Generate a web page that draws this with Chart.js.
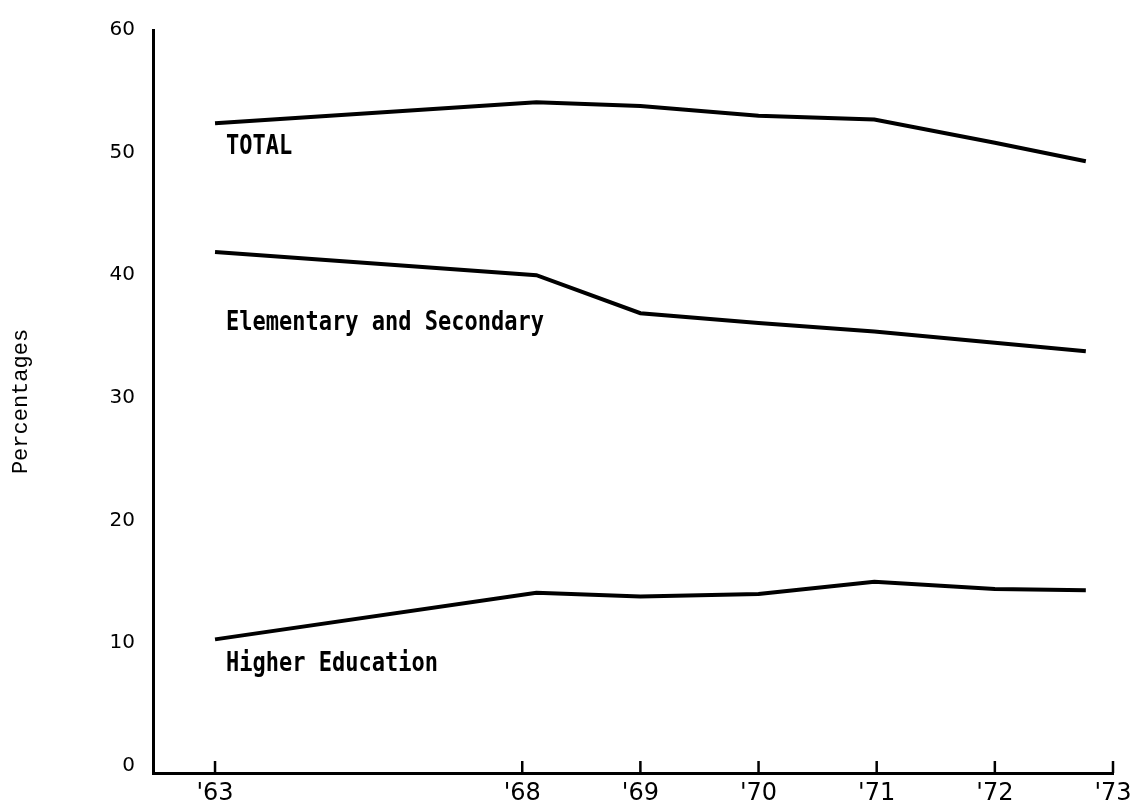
<!DOCTYPE html>
<html>
<head>
<meta charset="utf-8">
<script src="https://cdn.jsdelivr.net/npm/chart.js@4.4.0/dist/chart.umd.min.js"></script>
<style>
  html, body { margin: 0; padding: 0; background: #fff; }
  #wrap { width: 1141px; height: 805px; }
</style>
</head>
<body>
<div id="wrap"><canvas id="chart"></canvas></div>
<script>
// year labels and where they sit on the (broken) time axis
const xLabels = ["'63", "'68", "'69", "'70", "'71", "'72", "'73"];
const tickPos = [0, 2.6, 3.6, 4.6, 5.6, 6.6, 7.6];
// where each year's point was actually plotted
const pointPos = [0, 2.72, 3.6, 4.6, 5.58, 6.6, 7.37];

const total = [52.4, 54.1, 53.8, 53.0, 52.7, 50.8, 49.3];
const elemSec = [41.9, 40.0, 36.9, 36.1, 35.4, 34.5, 33.8];
const higherEd = [10.3, 14.1, 13.8, 14.0, 15.0, 14.4, 14.3];

const yTicks = [0, 10, 20, 30, 40, 50, 60];

const seriesNames = ['TOTAL', 'Elementary and Secondary', 'Higher Education'];

function points(vals) {
  return vals.map((v, i) => ({ x: pointPos[i], y: v }));
}

// short upward tick marks on the x axis
const innerTicks = {
  id: 'innerTicks',
  afterDraw(chart) {
    const { ctx } = chart;
    const xs = chart.scales.x;
    const bottom = chart.chartArea.bottom;
    ctx.save();
    ctx.strokeStyle = '#000';
    ctx.lineWidth = 2.5;
    tickPos.forEach(v => {
      const px = xs.getPixelForValue(v);
      ctx.beginPath();
      ctx.moveTo(px, bottom);
      ctx.lineTo(px, bottom - 12);
      ctx.stroke();
    });
    ctx.restore();
  }
};

// series names written under the start of each line
const lineLabels = {
  id: 'lineLabels',
  afterDatasetsDraw(chart, args, opts) {
    const { ctx } = chart;
    ctx.save();
    ctx.fillStyle = '#000';
    ctx.font = 'bold 22px "DejaVu Sans Mono"';
    ctx.textBaseline = 'alphabetic';
    chart.data.datasets.forEach((ds, i) => {
      const pt = chart.getDatasetMeta(i).data[0];
      if (!pt) return;
      ctx.save();
      ctx.translate(pt.x + 11, pt.y + opts.dy[i]);
      ctx.scale(1, 1.17);
      ctx.fillText(ds.label, 0, 0);
      ctx.restore();
    });
    ctx.restore();
  }
};

const lineStyle = {
  borderColor: '#000',
  borderWidth: 4,
  pointRadius: 0,
  tension: 0,
  fill: false
};

new Chart(document.getElementById('chart'), {
  type: 'line',
  data: {
    datasets: [
      Object.assign({ label: seriesNames[0], data: points(total) }, lineStyle),
      Object.assign({ label: seriesNames[1], data: points(elemSec) }, lineStyle),
      Object.assign({ label: seriesNames[2], data: points(higherEd) }, lineStyle)
    ]
  },
  options: {
    responsive: true,
    maintainAspectRatio: false,
    animation: false,
    layout: { padding: { left: 0, top: 25, right: 28, bottom: 0 } },
    plugins: {
      legend: { display: false },
      tooltip: { enabled: false },
      lineLabels: { dy: [31, 78, 32] }
    },
    scales: {
      x: {
        type: 'linear',
        min: -0.525,
        max: 7.6,
        grid: { display: false, drawTicks: false },
        border: { display: true, color: '#000', width: 3 },
        afterBuildTicks: s => { s.ticks = tickPos.map(v => ({ value: v })); },
        afterFit: s => { s.height = 32; },
        ticks: {
          autoSkip: false,
          maxRotation: 0,
          padding: 6,
          color: '#000',
          font: { family: 'DejaVu Sans', size: 24 },
          callback: (val, i) => xLabels[i]
        }
      },
      y: {
        min: -0.6,
        max: 60,
        grid: { display: false, drawTicks: false },
        border: { display: true, color: '#000', width: 3 },
        afterBuildTicks: s => { s.ticks = yTicks.map(v => ({ value: v })); },
        afterFit: s => { s.width = 153; },
        ticks: {
          padding: 18,
          color: '#000',
          font: { family: 'DejaVu Sans', size: 20 }
        },
        title: {
          display: true,
          text: 'Percentages',
          color: '#000',
          padding: { top: 8, bottom: 0 },
          font: { family: 'Liberation Mono', size: 22 }
        }
      }
    }
  },
  plugins: [innerTicks, lineLabels]
});
</script>
</body>
</html>
